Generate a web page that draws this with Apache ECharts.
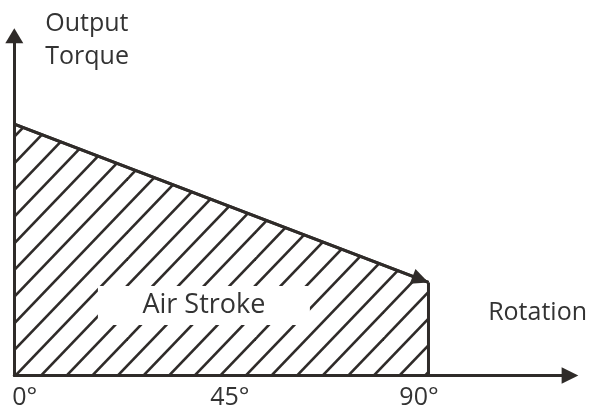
<!DOCTYPE html>
<html>
<head>
<meta charset="utf-8">
<script src="https://cdn.jsdelivr.net/npm/echarts@6/dist/echarts.min.js"></script>
<style>
html,body{margin:0;padding:0;background:#fff;}
#chart{width:592px;height:410px;}
</style>
</head>
<body>
<div id="chart"></div>
<script>
// ---- data ----
const strokeX = [0, 90];             // rotation (deg)
const strokeTorque = [74, 27.4];     // output torque (relative)
const tickValues = [0, 45, 90];
const tickLabels = ['0°', '45°', '90°'];
const areaLabel = 'Air Stroke';
const areaLabelPos = [41.2, 20.6];
const xName = 'Rotation';
const yName = 'Output\nTorque';

const lineColor = '#2f2b29';
const textColor = '#333333';
const FONT = '"Open Sans", "Noto Sans", sans-serif';

function makeHatch() {
  const W = 128, H = 80;
  const c = document.createElement('canvas');
  c.width = W; c.height = H;
  const ctx = c.getContext('2d');
  ctx.strokeStyle = lineColor;
  ctx.lineWidth = 2.6;
  const hx = 25.6, vy = 80 / 3, phase = 0.686;
  for (let k = -5; k < 14; k++) {
    const c0 = phase + k;
    const y1 = -30, y2 = H + 30;
    ctx.beginPath();
    ctx.moveTo(hx * (c0 - y1 / vy), y1);
    ctx.lineTo(hx * (c0 - y2 / vy), y2);
    ctx.stroke();
  }
  return c;
}

const chart = echarts.init(document.getElementById('chart'), null, {renderer: 'canvas'});
const strokeData = strokeX.map((x, i) => [x, strokeTorque[i]]);
const endIdx = strokeX.length - 1;

const option = {
  animation: false,
  grid: {left: 14.3, top: 35.8, right: 22, bottom: 34.5, containLabel: false, outerBoundsMode: 'none'},
  xAxis: {
    type: 'value', min: 0, max: 120.75, interval: 45,
    name: xName, nameLocation: 'end', nameGap: 17,
    nameTextStyle: {fontFamily: FONT, fontSize: 25, color: textColor, align: 'right', verticalAlign: 'bottom', lineHeight: 25, padding: [0, 0, 50, 0]},
    axisLine: {show: true, onZero: false, symbol: ['none', 'triangle'], symbolSize: [16.7, 16.7], lineStyle: {color: lineColor, width: 3}},
    axisTick: {show: false},
    splitLine: {show: false},
    axisLabel: {
      customValues: tickValues,
      margin: 10,
      fontFamily: FONT, fontSize: 25, color: textColor, lineHeight: 25,
      formatter: function (v) {
        const i = tickValues.indexOf(v);
        return i < 0 ? '' : '{t' + i + '|' + tickLabels[i] + '}';
      },
      rich: {
        t0: {fontFamily: FONT, fontSize: 25, color: textColor, lineHeight: 25, padding: [0, 0, 0, 21]},
        t1: {fontFamily: FONT, fontSize: 25, color: textColor, lineHeight: 25, padding: [0, 0, 0, 17]},
        t2: {fontFamily: FONT, fontSize: 25, color: textColor, lineHeight: 25, padding: [0, 19, 0, 0]}
      }
    }
  },
  yAxis: {
    type: 'value', min: 0, max: 100,
    name: yName, nameLocation: 'end', nameGap: 27.8,
    nameTextStyle: {fontFamily: FONT, fontSize: 25, color: textColor, align: 'left', verticalAlign: 'top', lineHeight: 32.4, padding: [0, 0, 0, 31]},
    axisLine: {show: true, onZero: false, symbol: ['none', 'triangle'], symbolSize: [18, 15], lineStyle: {color: lineColor, width: 3}},
    axisTick: {show: false},
    splitLine: {show: false},
    axisLabel: {show: false}
  },
  series: [
    {
      type: 'line',
      data: strokeData,
      showSymbol: false,
      symbol: 'none',
      lineStyle: {color: lineColor, width: 3},
      areaStyle: {color: {image: makeHatch(), repeat: 'repeat'}, opacity: 1, origin: 'start'},
      markLine: {
        silent: true,
        animation: false,
        label: {show: false},
        lineStyle: {color: lineColor, width: 3, type: 'solid'},
        data: [[
          {coord: strokeData[0], symbol: 'none'},
          {coord: strokeData[endIdx], symbol: 'triangle', symbolSize: [16, 17], symbolOffset: [0, 8.5]}
        ]]
      },
      z: 3
    },
    {
      type: 'line',
      data: [[strokeX[endIdx], 0], [strokeX[endIdx], strokeTorque[endIdx]]],
      showSymbol: false,
      symbol: 'none',
      lineStyle: {color: lineColor, width: 3},
      z: 3
    },
    {
      type: 'scatter',
      data: [areaLabelPos],
      symbolSize: 1,
      itemStyle: {color: '#ffffff', opacity: 1},
      emphasis: {disabled: true},
      label: {
        show: true, position: 'inside', formatter: areaLabel,
        fontFamily: FONT, fontSize: 27, color: textColor, lineHeight: 27, opacity: 1,
        backgroundColor: '#ffffff', width: 212, align: 'center',
        padding: [9.5, 0, 2.5, 0]
      },
      z: 5
    }
  ]
};
chart.setOption(option);
</script>
</body>
</html>
